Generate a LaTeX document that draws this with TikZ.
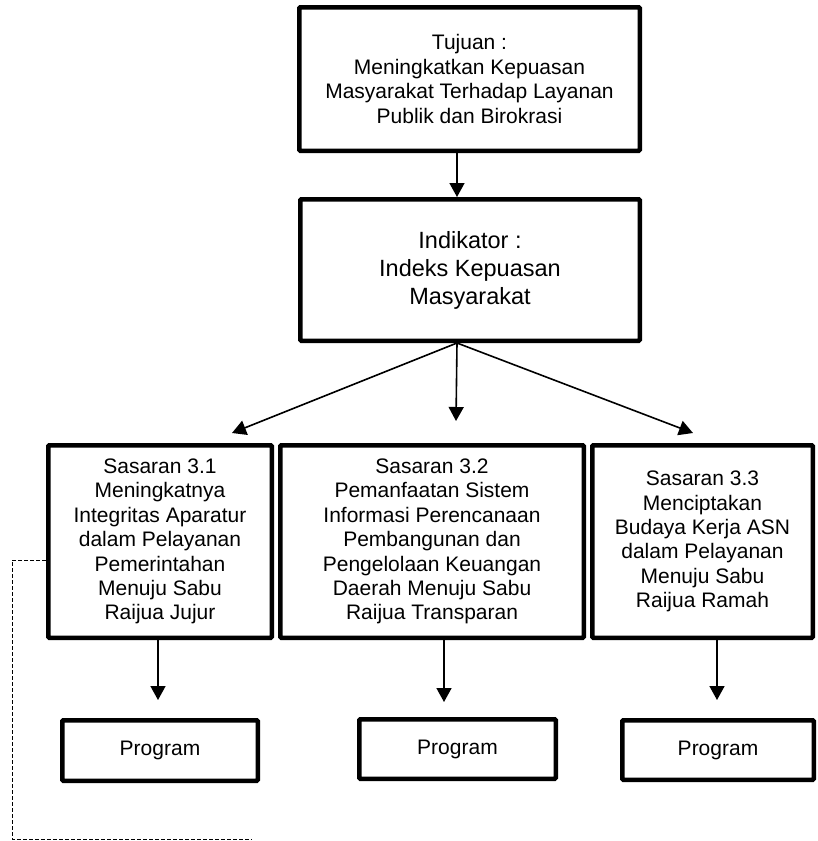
\documentclass[tikz,border=0pt]{standalone}
\usepackage{fontspec}
\setmainfont{Liberation Sans}
\usetikzlibrary{arrows.meta}
\begin{document}
\begin{tikzpicture}[x=1pt,y=-1pt,
  box/.style={draw, line width=4.5pt, rounded corners=1pt, align=center, inner sep=0pt,
    font=\fontsize{21}{24.4}\selectfont},
  arr/.style={line width=1.6pt, -{Triangle[length=14pt,width=15pt]}},
  dash line/.style={line width=1pt, dash pattern=on 4pt off 2pt}]
\useasboundingbox (0,0) rectangle (817,841);
\node[box, minimum width=340.5pt, minimum height=143.5pt] (tuj) at (469.5,79)
  {Tujuan :\\Meningkatkan Kepuasan\\Masyarakat Terhadap Layanan\\Publik dan Birokrasi};
\node[box, minimum width=339.5pt, minimum height=141.5pt, font=\fontsize{23.5}{28}\selectfont] (ind) at (470,270)
  {Indikator :\\Indeks Kepuasan\\Masyarakat};
\node[box, minimum width=223.5pt, minimum height=192.5pt] (s1) at (160,541.5)
  {Sasaran 3.1\\Meningkatnya\\Integritas Aparatur\\dalam Pelayanan\\Pemerintahan\\Menuju Sabu\\Raijua Jujur};
\node[box, minimum width=303.5pt, minimum height=192.5pt] (s2) at (432,541.5)
  {Sasaran 3.2\\Pemanfaatan Sistem\\Informasi Perencanaan\\Pembangunan dan\\Pengelolaan Keuangan\\Daerah Menuju Sabu\\Raijua Transparan};
\node[box, minimum width=220.5pt, minimum height=192.5pt] (s3) at (702.5,541.5)
  {Sasaran 3.3\\Menciptakan\\Budaya Kerja ASN\\dalam Pelayanan\\Menuju Sabu\\Raijua Ramah};
\node[box, minimum width=195.5pt, minimum height=60.5pt] (p1) at (160,750.5) {Program};
\node[box, minimum width=196.5pt, minimum height=59.5pt] (p2) at (457.5,749) {Program};
\node[box, minimum width=191.5pt, minimum height=59.5pt] (p3) at (718,750) {Program};
\coordinate (cx) at (457,0);
\coordinate (t1) at (232,433);
\coordinate (t2) at (456,421);
\coordinate (t3) at (693,433);
\coordinate (d1) at (158,0);
\coordinate (d2) at (444,0);
\coordinate (d3) at (717,0);
\coordinate (q1) at (158,700);
\coordinate (q2) at (444,702);
\coordinate (q3) at (717,700);
\coordinate (dl) at (12,560);
\coordinate (dc) at (12,839);
\coordinate (de) at (252,839);
\draw[arr] (tuj.south -| cx) -- (ind.north -| cx);
\draw[arr] (ind.south -| cx) -- (t1);
\draw[arr] (ind.south -| cx) -- (t2);
\draw[arr] (ind.south -| cx) -- (t3);
\draw[arr] (s1.south -| d1) -- (q1);
\draw[arr] (s2.south -| d2) -- (q2);
\draw[arr] (s3.south -| d3) -- (q3);
\draw[dash line] (s1.west |- dl) -- (dl) -- (dc) -- (de);
\end{tikzpicture}
\end{document}
